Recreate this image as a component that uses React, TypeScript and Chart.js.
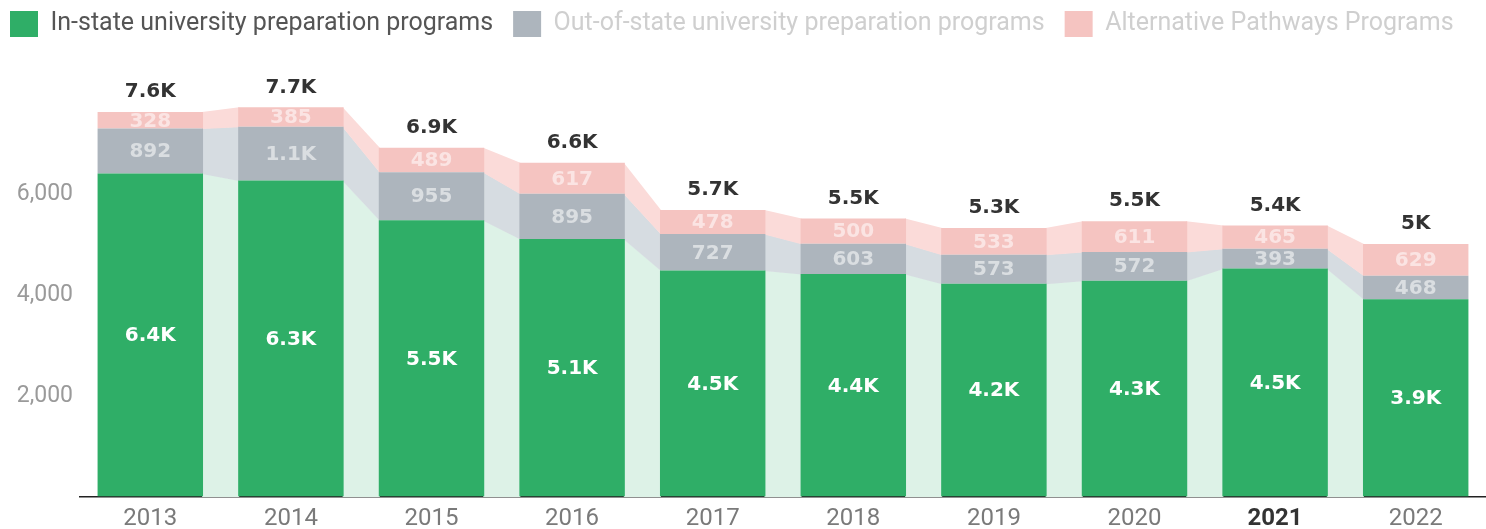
import React, { useEffect, useRef } from "react";
import { Chart, registerables } from "chart.js";

Chart.register(...registerables);

const years = ["2013", "2014", "2015", "2016", "2017", "2018", "2019", "2020", "2021", "2022"];
const inState = [6420, 6280, 5490, 5120, 4490, 4420, 4230, 4290, 4530, 3920];
const outOfState = [892, 1070, 955, 895, 727, 603, 573, 572, 393, 468];
const altPathways = [328, 385, 489, 617, 478, 500, 533, 611, 465, 629];
const seriesNames = [
  "In-state university preparation programs",
  "Out-of-state university preparation programs",
  "Alternative Pathways Programs",
];
const yTicks = [2000, 4000, 6000];

const barColors = ["#2fae67", "#adb5bd", "#f5c4c1"];
const ribbonColors = ["#ddf2e7", "#d6dce1", "#fbdbd9"];
const legendTextColors = ["#555555", "#cfcfcf", "#cfcfcf"];
const valueColors = ["#ffffff", "rgba(255,255,255,0.55)", "rgba(255,255,255,0.55)"];

const fmt = (v: number) => {
  if (v >= 1000) {
    const s = (v / 1000).toFixed(1).replace(/\.0$/, "");
    return s + "K";
  }
  return String(v);
};

const ribbonPlugin = {
  id: "ribbons",
  beforeDatasetsDraw(chart: any) {
    const ctx = chart.ctx;
    chart.data.datasets.forEach((_ds: any, di: number) => {
      const meta = chart.getDatasetMeta(di);
      ctx.save();
      ctx.fillStyle = ribbonColors[di];
      for (let i = 0; i < meta.data.length - 1; i++) {
        const a = meta.data[i].getProps(["x", "y", "base", "width"], true);
        const b = meta.data[i + 1].getProps(["x", "y", "base", "width"], true);
        ctx.beginPath();
        ctx.moveTo(a.x + a.width / 2 - 1, a.y);
        ctx.lineTo(b.x - b.width / 2 + 1, b.y);
        ctx.lineTo(b.x - b.width / 2 + 1, b.base + 0.5);
        ctx.lineTo(a.x + a.width / 2 - 1, a.base + 0.5);
        ctx.closePath();
        ctx.fill();
      }
      ctx.restore();
    });
  },
};

const labelPlugin = {
  id: "valueLabels",
  afterDatasetsDraw(chart: any) {
    const ctx = chart.ctx;
    ctx.save();
    ctx.textAlign = "center";
    ctx.textBaseline = "middle";
    ctx.font = "bold 20px 'DejaVu Sans'";
    const n = chart.data.labels.length;
    chart.data.datasets.forEach((ds: any, di: number) => {
      const meta = chart.getDatasetMeta(di);
      ctx.fillStyle = valueColors[di];
      meta.data.forEach((el: any, i: number) => {
        const p = el.getProps(["x", "y", "base"], true);
        ctx.fillText(fmt(ds.data[i]), p.x, (p.y + p.base) / 2 + 1);
      });
    });
    const topMeta = chart.getDatasetMeta(chart.data.datasets.length - 1);
    ctx.fillStyle = "#333333";
    for (let i = 0; i < n; i++) {
      const total = chart.data.datasets.reduce((s: number, d: any) => s + d.data[i], 0);
      const p = topMeta.data[i].getProps(["x", "y"], true);
      ctx.fillText(fmt(total), p.x, p.y - 20);
    }
    ctx.restore();
  },
};

const legendHeightPlugin = {
  id: "legendHeight",
  beforeInit(chart: any) {
    const legend = chart.legend;
    if (!legend) return;
    const origFit = legend.fit;
    legend.fit = function () {
      origFit.call(this);
      this.height = 103;
    };
  },
};

export default function App() {
  const ref = useRef<HTMLCanvasElement | null>(null);
  useEffect(() => {
    if (!ref.current) return;
    Chart.defaults.font.family = "Roboto";
    const datasets = [inState, outOfState, altPathways].map((d, i) => ({
      label: seriesNames[i],
      data: d,
      backgroundColor: barColors[i],
      borderWidth: 0,
      barPercentage: 0.75,
      categoryPercentage: 1,
    }));
    const chart = new Chart(ref.current, {
      type: "bar",
      data: { labels: years, datasets },
      plugins: [legendHeightPlugin, ribbonPlugin, labelPlugin],
      options: {
        animation: false,
        responsive: true,
        maintainAspectRatio: false,
        layout: { padding: { left: -10, right: -8, top: -9, bottom: 0 } },
        plugins: {
          tooltip: { enabled: false },
          legend: {
            display: true,
            position: "top",
            align: "start",
            onClick: () => {},
            labels: {
              boxWidth: 28,
              boxHeight: 26,
              padding: 20,
              font: { size: 25, family: "Roboto" },
              generateLabels: (c: any) =>
                c.data.datasets.map((ds: any, i: number) => ({
                  text: ds.label,
                  fillStyle: barColors[i],
                  strokeStyle: barColors[i],
                  lineWidth: 0,
                  fontColor: legendTextColors[i],
                  hidden: false,
                  datasetIndex: i,
                })),
            },
          },
        },
        scales: {
          x: {
            stacked: true,
            offset: true,
            grid: { display: false, drawTicks: false },
            border: { display: true, color: "#222222", width: 1.5 },
            afterFit: (s: any) => {
              s.height = 32.5;
            },
            ticks: {
              padding: 8,
              font: (ctx: any) => ({
                size: 24,
                family: "Roboto",
                weight: years[ctx.index] === "2021" ? "bold" : "normal",
              }),
              color: (ctx: any) => (years[ctx.index] === "2021" ? "#333333" : "#7a7a7a"),
            },
          },
          y: {
            stacked: true,
            min: 0,
            max: 8000,
            grid: { display: false, drawTicks: false },
            border: { display: false },
            afterFit: (s: any) => {
              s.width = 90;
            },
            afterBuildTicks: (s: any) => {
              s.ticks = yTicks.map((v) => ({ value: v }));
            },
            ticks: {
              padding: 7,
              color: "#9a9a9a",
              font: { size: 23, family: "Roboto" },
              callback: (v: any) => Number(v).toLocaleString("en-US"),
            },
          },
        },
      },
    });
    return () => chart.destroy();
  }, []);
  return (
    <div style={{ position: "fixed", left: 0, top: 0, width: 1486, height: 529 }}>
      <canvas ref={ref} />
    </div>
  );
}
